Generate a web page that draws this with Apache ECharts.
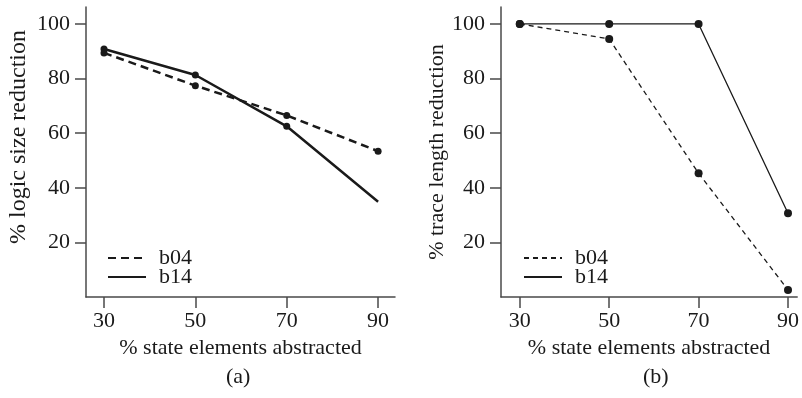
<!DOCTYPE html>
<html>
<head>
<meta charset="utf-8">
<script src="https://cdn.jsdelivr.net/npm/echarts@6/dist/echarts.min.js"></script>
<style>
  html, body { margin: 0; padding: 0; background: #fff; }
  #chart { width: 802px; height: 398px; }
</style>
</head>
<body>
<div id="chart"></div>
<script>
// abstraction levels (% state elements abstracted)
const xTicks = [30, 50, 70, 90];
const yTicks = [20, 40, 60, 80, 100];

// (a) logic size reduction
const logicB04 = [89.4, 77.4, 66.5, 53.4];
const logicB14 = [90.8, 81.3, 62.5, 34.9];

// (b) trace length reduction
const traceB04 = [100, 94.5, 45.3, 2.6];
const traceB14 = [100, 100, 100, 30.7];

const font = "Liberation Serif";
const ink = "#1a1a1a";
const axisCol = "#4a4a4a";

function pairs(vals, noMarkLast) {
    return xTicks.map((x, i) => {
        if (noMarkLast && i === vals.length - 1) return { value: [x, vals[i]], symbol: "none" };
        return [x, vals[i]];
    });
}

function xAxis(gridIndex, min, max) {
    return {
        type: "value", gridIndex, min, max,
        name: "% state elements abstracted",
        nameLocation: "middle", nameGap: 39,
        nameTextStyle: { fontFamily: font, fontSize: 22, color: ink },
        axisLine: { lineStyle: { color: axisCol, width: 1.5 } },
        axisTick: { show: true, length: 11, customValues: xTicks, lineStyle: { color: axisCol, width: 1.5 } },
        axisLabel: { customValues: xTicks, margin: 13, fontFamily: font, fontSize: 22, color: ink },
        splitLine: { show: false }
    };
}

function yAxis(gridIndex, name, gap, size, shift) {
    return {
        type: "value", gridIndex, min: 0, max: 106.2,
        name, nameLocation: "middle", nameGap: gap,
        nameTextStyle: { fontFamily: font, fontSize: size, color: ink, padding: [0, 0, 0, shift] },
        axisLine: { show: true, lineStyle: { color: axisCol, width: 1.5 } },
        axisTick: { show: true, length: 11, customValues: yTicks, lineStyle: { color: axisCol, width: 1.5 } },
        axisLabel: { customValues: yTicks, margin: 16, fontFamily: font, fontSize: 22, color: ink },
        splitLine: { show: false }
    };
}

function legend(left, names) {
    return {
        orient: "vertical", left, top: 247, padding: 0,
        itemWidth: 38, itemHeight: 14, itemGap: -3,
        itemStyle: { opacity: 0 },
        textStyle: { fontFamily: font, fontSize: 22, color: ink, lineHeight: 18, padding: [0, 0, 0, 8] },
        data: names,
        formatter: n => n.trim()
    };
}

const chart = echarts.init(document.getElementById("chart"));
chart.setOption({
    animation: false,
    grid: [
        { left: 86, top: 7, width: 309, height: 290 },
        { left: 501, top: 7, width: 301, height: 290 }
    ],
    xAxis: [xAxis(0, 26.06, 93.7), xAxis(1, 25.8, 92.05)],
    yAxis: [
        yAxis(0, "% logic size reduction", 55, 24, 30),
        yAxis(1, "% trace length reduction", 52, 22, 0)
    ],
    legend: [legend(107, ["b04", "b14"]), legend(523, ["b04 ", "b14 "])],
    graphic: [
        { type: "text", left: 226, top: 366, style: { text: "(a)", font: "22px " + font, fill: ink } },
        { type: "text", left: 643, top: 366, style: { text: "(b)", font: "22px " + font, fill: ink } }
    ],
    series: [
        {
            name: "b04", type: "line", xAxisIndex: 0, yAxisIndex: 0,
            data: pairs(logicB04), symbol: "circle", symbolSize: 7,
            lineStyle: { color: ink, width: 2.5, type: [8, 5] }, itemStyle: { color: ink }
        },
        {
            name: "b14", type: "line", xAxisIndex: 0, yAxisIndex: 0,
            data: pairs(logicB14, true), symbol: "circle", symbolSize: 7,
            lineStyle: { color: ink, width: 2.5 }, itemStyle: { color: ink }
        },
        {
            name: "b04 ", type: "line", xAxisIndex: 1, yAxisIndex: 1,
            data: pairs(traceB04), symbol: "circle", symbolSize: 8,
            lineStyle: { color: ink, width: 1.3, type: [5, 4] }, itemStyle: { color: ink }
        },
        {
            name: "b14 ", type: "line", xAxisIndex: 1, yAxisIndex: 1,
            data: pairs(traceB14), symbol: "circle", symbolSize: 8,
            lineStyle: { color: ink, width: 1.3 }, itemStyle: { color: ink }
        }
    ]
});
</script>
</body>
</html>
